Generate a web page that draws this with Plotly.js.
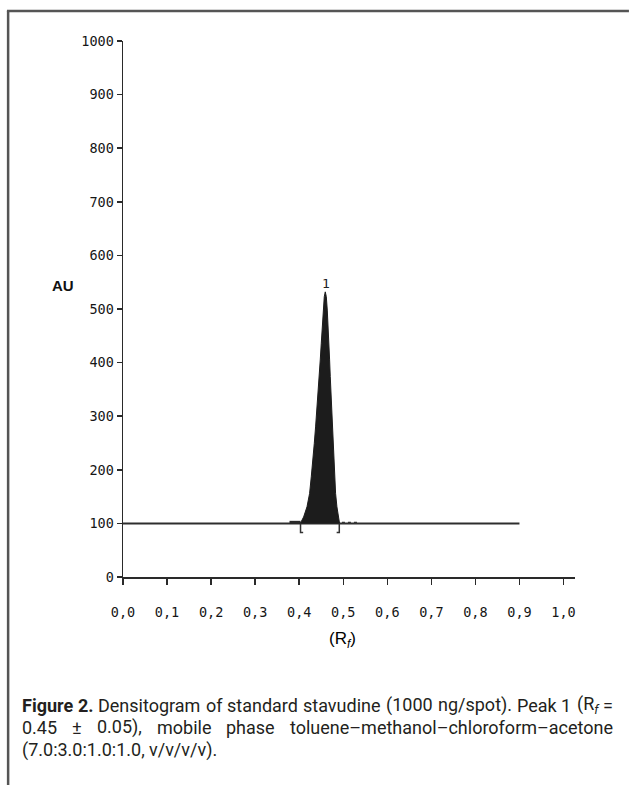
<!DOCTYPE html>
<html>
<head>
<meta charset="utf-8">
<script src="https://cdn.plot.ly/plotly-3.0.1.min.js"></script>
<style>
  html, body { margin: 0; padding: 0; background: #fff; }
  #chart { width: 629px; height: 785px; }
</style>
</head>
<body>
<div id="chart"></div>
<script>
// Densitogram of standard stavudine: baseline at 100 AU, one peak near Rf 0.46
const baselineRf = [0.0, 0.9];
const baselineAU = [100, 100];

const peakRf = [0.4025, 0.410, 0.4177, 0.4236, 0.4274, 0.4313, 0.4342, 0.4372, 0.4403,
                0.4433, 0.4456, 0.4478, 0.4501, 0.4524, 0.4546, 0.4569, 0.4592, 0.4615,
                0.4637, 0.466, 0.4675, 0.469, 0.4705, 0.472, 0.4735, 0.475, 0.4766,
                0.478, 0.4803, 0.4826, 0.4856, 0.4887, 0.4916];
const peakAU = [100, 112, 131, 156, 187, 218, 249, 280, 312,
                343, 374, 405, 436, 467, 498, 523, 532, 523,
                498, 467, 436, 405, 374, 343, 312, 280, 249,
                218, 187, 156, 131, 112, 100];

// short baseline pieces either side of the peak
const preRf = [0.378, 0.403];
const preAU = [102, 102];
const tailRf = [0.497, 0.534];
const tailAU = [101, 101];

// integration limits and peak number
const peakStart = 0.403;
const peakEnd = 0.491;
const peakLabel = '1';

const xTickVals = [0, 0.1, 0.2, 0.3, 0.4, 0.5, 0.6, 0.7, 0.8, 0.9, 1.0];
const xTickText = ['0,0', '0,1', '0,2', '0,3', '0,4', '0,5', '0,6', '0,7', '0,8', '0,9', '1,0'];
const yTickVals = [0, 100, 200, 300, 400, 500, 600, 700, 800, 900, 1000];
const yTickText = ['0', '100', '200', '300', '400', '500', '600', '700', '800', '900', '1000'];

const captionLines = [
  ['<b>Figure</b>', '<b>2.</b>', 'Densitogram', 'of', 'standard', 'stavudine', '(1000', 'ng/spot).', 'Peak', '1', '(R<sub><i>f</i></sub>', '='],
  ['0.45', '±', '0.05),', 'mobile', 'phase', 'toluene–methanol–chloroform–acetone'],
  ['(7.0:3.0:1.0:1.0,', 'v/v/v/v).']
];

// ---- page geometry (pixels) ----
const W = 629, H = 785;
const M = { l: 122.5, r: 54, t: 41, b: 208 };
const plotW = W - M.l - M.r, plotH = H - M.t - M.b;
const px2paperX = p => (p - M.l) / plotW;
const px2paperY = p => (H - M.b - p) / plotH;

const ink = '#1c1c1c';
const monoFont = 'DejaVu Sans Mono, Liberation Mono, monospace';
const capFamily = 'Roboto';
const capSize = 18;
const cssFamily = '"Roboto"';

// bracket marks drawn from the integration limits
const depth = 17, foot = 0.006;
const bracketL = { x: [peakStart, peakStart, peakStart + foot], y: [100, 100 - depth, 100 - depth] };
const bracketR = { x: [peakEnd, peakEnd, peakEnd - foot], y: [100, 100 - depth, 100 - depth] };

const traces = [
  { x: baselineRf, y: baselineAU, mode: 'lines', line: { color: '#2e2e2e', width: 2 }, hoverinfo: 'skip' },
  { x: preRf, y: preAU, mode: 'lines', line: { color: '#2a2a2a', width: 3 }, hoverinfo: 'skip' },
  { x: tailRf, y: tailAU, mode: 'lines', line: { color: '#333', width: 2, dash: 'dot' }, hoverinfo: 'skip' },
  { x: peakRf, y: peakAU, mode: 'lines', fill: 'toself', fillcolor: ink,
    line: { color: ink, width: 1 }, hoverinfo: 'skip' },
  { x: bracketL.x, y: bracketL.y, mode: 'lines', line: { color: '#333', width: 1.5 }, hoverinfo: 'skip' },
  { x: bracketR.x, y: bracketR.y, mode: 'lines', line: { color: '#333', width: 1.5 }, hoverinfo: 'skip' }
];

// ---- justified caption, one annotation per word ----
const canvas = document.createElement('canvas');
const ctx = canvas.getContext('2d');
function measureWord(w) {
  const bold = /<b>/.test(w);
  const subMatch = w.match(/<sub>(.*?)<\/sub>/);
  if (subMatch) {
    const main = w.replace(/<sub>.*?<\/sub>/, '').replace(/<[^>]+>/g, '');
    const subTxt = subMatch[1].replace(/<[^>]+>/g, '');
    ctx.font = (bold ? 'bold ' : '') + capSize + 'px ' + cssFamily;
    const a = ctx.measureText(main).width;
    ctx.font = 'italic ' + (capSize * 0.7) + 'px ' + cssFamily;
    return a + ctx.measureText(subTxt).width;
  }
  ctx.font = (bold ? 'bold ' : '') + capSize + 'px ' + cssFamily;
  return ctx.measureText(w.replace(/<[^>]+>/g, '')).width;
}

const capLeft = 20, capRight = 612;
const capCenters = [705, 727.5, 750];
const annotations = [];
captionLines.forEach((words, li) => {
  const widths = words.map(measureWord);
  const total = widths.reduce((a, b) => a + b, 0);
  ctx.font = capSize + 'px ' + cssFamily;
  let gap = ctx.measureText(' ').width;
  if (li < captionLines.length - 1) {
    gap = (capRight - capLeft - total) / (words.length - 1);
  }
  let x = capLeft;
  words.forEach((w, i) => {
    annotations.push({
      text: w, showarrow: false, xref: 'paper', yref: 'paper',
      x: px2paperX(x - 1), y: px2paperY(capCenters[li]),
      xanchor: 'left', yanchor: 'middle',
      font: { family: capFamily, size: capSize, color: '#231f20' }
    });
    x += widths[i] + gap;
  });
});

// axis labels and peak number
annotations.push({
  text: '<b>AU</b>', showarrow: false, xref: 'paper', yref: 'paper',
  x: px2paperX(62), y: px2paperY(285), xanchor: 'center', yanchor: 'middle',
  font: { family: 'Liberation Sans, Arial, sans-serif', size: 15, color: '#111' }
});
annotations.push({
  text: '(R<sub><i>f</i></sub>)', showarrow: false, xref: 'x', yref: 'paper',
  x: 0.498, y: px2paperY(640), xanchor: 'center', yanchor: 'middle',
  font: { family: 'Liberation Sans, Arial, sans-serif', size: 17, color: '#000' }
});
annotations.push({
  text: peakLabel, showarrow: false, xref: 'x', yref: 'y',
  x: 0.4615, y: Math.max(...peakAU), xanchor: 'center', yanchor: 'bottom',
  yshift: -1,
  font: { family: monoFont, size: 13, color: '#222' }
});

// frame around the figure: top edge and left edge
const frame = { color: '#555', width: 2.5 };
const shapes = [
  { type: 'line', xref: 'paper', yref: 'paper', x0: px2paperX(7.5), x1: px2paperX(7.5),
    y0: px2paperY(H), y1: px2paperY(11), line: frame },
  { type: 'line', xref: 'paper', yref: 'paper', x0: px2paperX(6.3), x1: px2paperX(W),
    y0: px2paperY(11), y1: px2paperY(11), line: frame }
];

const tickFont = { family: monoFont, size: 13.5, color: '#161616' };

const layout = {
  width: W, height: H,
  margin: M,
  paper_bgcolor: '#fff', plot_bgcolor: '#fff',
  showlegend: false,
  xaxis: {
    range: [0, (W - M.r - M.l) / 441], showgrid: false, zeroline: false,
    showline: true, linecolor: '#2a2a2a', linewidth: 1.5,
    ticks: 'outside', ticklen: 6, tickwidth: 1.5, tickcolor: '#2a2a2a',
    tickvals: xTickVals, ticktext: xTickText, ticklabelstandoff: 16,
    tickfont: tickFont
  },
  yaxis: {
    range: [0, 1000], showgrid: false, zeroline: false,
    showline: true, linecolor: '#2a2a2a', linewidth: 1.5,
    ticks: 'outside', ticklen: 5, tickwidth: 1.5, tickcolor: '#2a2a2a',
    tickvals: yTickVals, ticktext: yTickText,
    tickfont: tickFont
  },
  annotations: annotations,
  shapes: shapes
};

Plotly.newPlot('chart', traces, layout, { displayModeBar: false, staticPlot: true });
</script>
</body>
</html>
